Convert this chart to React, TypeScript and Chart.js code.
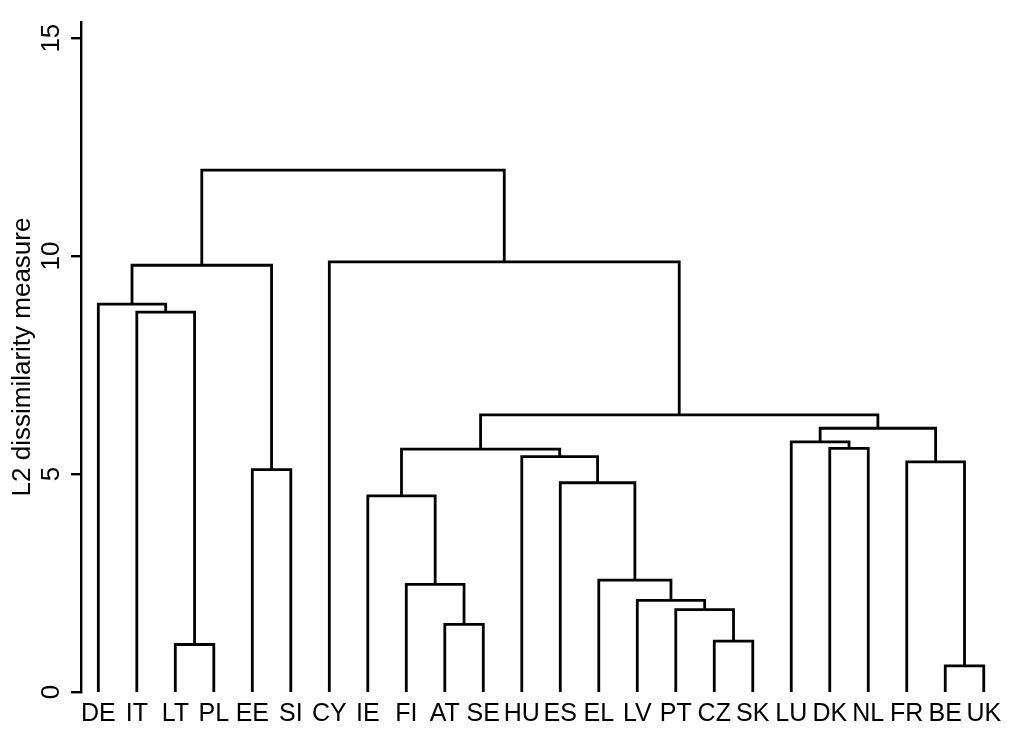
import React, { useEffect, useRef } from "react";
import { Chart, registerables } from "chart.js";

Chart.register(...registerables);

// Leaves (countries) in dendrogram order
const leaves = [
  "DE", "IT", "LT", "PL", "EE", "SI", "CY", "IE", "FI", "AT", "SE", "HU",
  "ES", "EL", "LV", "PT", "CZ", "SK", "LU", "DK", "NL", "FR", "BE", "UK",
];

// Merges: children refer to leaves as "L<i>" and earlier merges as "M<k>"
const mergeLeft = [
  "L22", "L2", "L16", "L9", "L15", "L14", "L8", "L13", "L7", "L12", "L4", "L21",
  "L11", "M8", "L19", "L18", "M15", "M13", "L1", "L0", "M19", "L6", "M20",
];
const mergeRight = [
  "L23", "L3", "L17", "L10", "M2", "M4", "M3", "M5", "M6", "M7", "L5", "M0",
  "M9", "M12", "L20", "M14", "M11", "M16", "M1", "M18", "M10", "M17", "M21",
];
const mergeHeight = [
  0.6, 1.09, 1.165, 1.55, 1.89, 2.1, 2.467, 2.566, 4.5, 4.8, 5.1, 5.28,
  5.4, 5.57, 5.59, 5.74, 6.05, 6.356, 8.716, 8.9, 9.79, 9.865, 11.97,
];

const yTicks = [0, 5, 10, 15];
const yTitle = "L2 dissimilarity measure";

const FONT = "'Liberation Sans', Arial, Helvetica, sans-serif";

function buildDatasets() {
  const mx: number[] = [];
  const pos = (ref: string) => {
    const idx = parseInt(ref.slice(1), 10);
    if (ref[0] === "L") return { x: idx, y: 0 };
    return { x: mx[idx], y: mergeHeight[idx] };
  };
  const sets: any[] = [];
  for (let k = 0; k < mergeHeight.length; k++) {
    const a = pos(mergeLeft[k]);
    const b = pos(mergeRight[k]);
    const h = mergeHeight[k];
    mx[k] = (a.x + b.x) / 2;
    sets.push({
      data: [
        { x: a.x, y: a.y },
        { x: a.x, y: h },
        { x: b.x, y: h },
        { x: b.x, y: b.y },
      ],
      borderColor: "#000",
      borderWidth: 2.8,
      pointRadius: 0,
      tension: 0,
      fill: false,
      borderCapStyle: "butt",
      borderJoinStyle: "miter",
    });
  }
  return sets;
}

export default function App() {
  const ref = useRef<HTMLCanvasElement>(null);
  useEffect(() => {
    if (!ref.current) return;
    const chart = new Chart(ref.current, {
      type: "line",
      data: { datasets: buildDatasets() },
      options: {
        animation: false,
        responsive: true,
        maintainAspectRatio: false,
        layout: { padding: { top: 22, right: 8, bottom: 0, left: 0 } },
        plugins: { legend: { display: false }, tooltip: { enabled: false } },
        scales: {
          x: {
            type: "linear",
            min: -0.45,
            max: 23.5,
            grid: { display: false, drawTicks: false },
            border: { display: false },
            afterBuildTicks: (s: any) => {
              s.ticks = leaves.map((_, i) => ({ value: i }));
            },
            afterFit: (s: any) => {
              s.height = 50;
            },
            ticks: {
              autoSkip: false,
              maxRotation: 0,
              minRotation: 0,
              padding: 7,
              color: "#000",
              font: { family: FONT, size: 25 },
              callback: (v: any) => leaves[v as number] ?? "",
            },
          },
          y: {
            type: "linear",
            min: 0,
            max: 15.37,
            afterBuildTicks: (s: any) => {
              s.ticks = yTicks.map((v) => ({ value: v }));
            },
            afterFit: (s: any) => {
              s.width = 81;
            },
            grid: {
              display: true,
              drawOnChartArea: false,
              drawTicks: true,
              tickLength: 10,
              color: "#000",
              lineWidth: 2.4,
            },
            border: { display: true, color: "#000", width: 2.4 },
            ticks: {
              minRotation: 90,
              maxRotation: 90,
              crossAlign: "center",
              padding: 5,
              color: "#000",
              font: { family: FONT, size: 26 },
            },
            title: {
              display: true,
              text: yTitle,
              color: "#000",
              font: { family: FONT, size: 26 },
              padding: { top: 7, bottom: 0 },
            },
          },
        },
      },
    });
    return () => chart.destroy();
  }, []);
  return (
    <div style={{ position: "fixed", left: 0, top: 0, width: 1011, height: 742, background: "#fff" }}>
      <canvas ref={ref} />
    </div>
  );
}
